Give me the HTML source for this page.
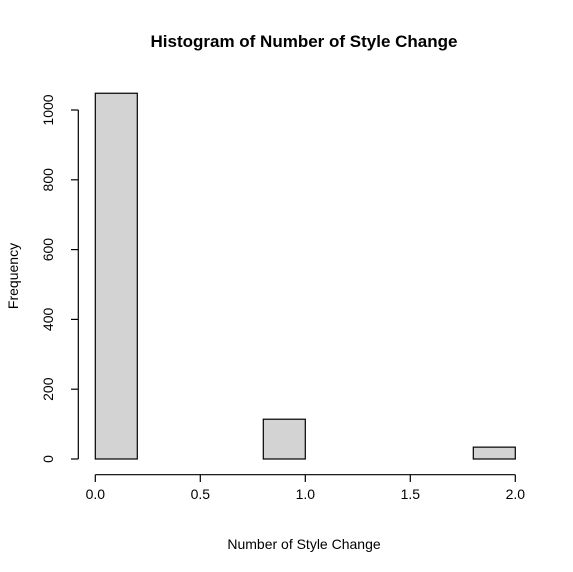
<!DOCTYPE html>
<html><head><meta charset="utf-8"><style>body{margin:0;background:#fff}svg{display:block;font-family:"Liberation Sans",Arial,sans-serif}</style></head>
<body>
<svg id="chart" width="573" height="572" xmlns="http://www.w3.org/2000/svg">
<text x="304" y="47" text-anchor="middle" font-size="17" font-weight="bold">Histogram of Number of Style Change</text>
<text x="304" y="549" text-anchor="middle" font-size="14">Number of Style Change</text>
<text transform="translate(18,276) rotate(-90)" text-anchor="middle" font-size="14">Frequency</text>
<g id="bars"></g><g id="axes"></g>
</svg>
<script>
const binEdges=[0,0.2,0.4,0.6,0.8,1.0,1.2,1.4,1.6,1.8,2.0];
const counts=[1048,0,0,0,114,0,0,0,0,34];
const xTicks=[0,0.5,1.0,1.5,2.0];
const xTickLabels=["0.0","0.5","1.0","1.5","2.0"];
const yTicks=[0,200,400,600,800,1000];
const ns="http://www.w3.org/2000/svg";
const X=v=>95.3+v*210;
const Y=v=>459-v*0.349;
function mk(t,a,p){const e=document.createElementNS(ns,t);for(const k in a)e.setAttribute(k,a[k]);p.appendChild(e);return e;}
const bars=document.getElementById('bars'),axes=document.getElementById('axes');
counts.forEach((c,i)=>{
 const r=mk('rect',{x:X(binEdges[i]),y:Y(c),width:X(binEdges[i+1])-X(binEdges[i]),height:Y(0)-Y(c),fill:'#d3d3d3',stroke:'#000','stroke-width':1.2},bars);
 
 
});
const xa=mk('line',{x1:X(0),x2:X(2),y1:474.7,y2:474.7,stroke:'#000','stroke-width':1.2},axes);


xTicks.forEach((v,i)=>{
 mk('line',{x1:X(v),x2:X(v),y1:474.7,y2:482,stroke:'#000','stroke-width':1.2},axes);
 const t=mk('text',{x:X(v),y:499,'text-anchor':'middle','font-size':14},axes);
 t.textContent=xTickLabels[i];
 
 
});
const ya=mk('line',{x1:78.3,x2:78.3,y1:Y(0),y2:Y(1000),stroke:'#000','stroke-width':1.2},axes);


yTicks.forEach(v=>{
 mk('line',{x1:71,x2:78.3,y1:Y(v),y2:Y(v),stroke:'#000','stroke-width':1.2},axes);
 const t=mk('text',{transform:`translate(53,${Y(v)}) rotate(-90)`,'text-anchor':'middle','font-size':14},axes);
 t.textContent=String(v);
 
 
});
</script>
</body></html>
